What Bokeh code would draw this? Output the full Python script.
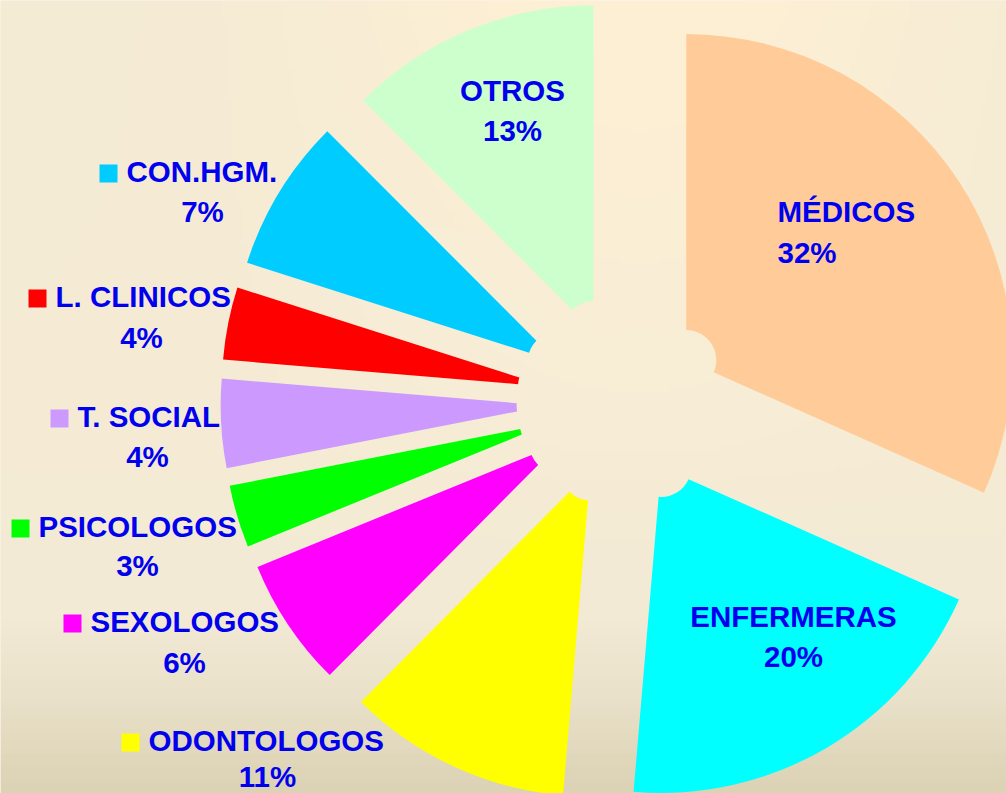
import numpy as np
from bokeh.plotting import figure
from bokeh.models import Range1d, ColumnDataSource
from bokeh.embed import file_html
from bokeh.resources import INLINE
from bokeh.core.properties import value

# ---------------- data ----------------
categories = ["MÉDICOS", "ENFERMERAS", "ODONTOLOGOS", "SEXOLOGOS", "PSICOLOGOS",
              "T. SOCIAL", "L. CLINICOS", "CON.HGM.", "OTROS"]
shares = [31.7, 19.7, 11.1, 6.4, 3.1, 4.4, 3.6, 7.6, 12.5]
pct_labels = ["32%", "20%", "11%", "6%", "3%", "4%", "4%", "7%", "13%"]
colors = ["#FFCC99", "#00FFFF", "#FFFF00", "#FF00FF", "#00FF00",
          "#CC99FF", "#FF0000", "#00CCFF", "#CCFFCC"]

# ---------------- layout (page pixel coordinates, y measured downward) ----------------
W, H = 1006, 793
PAGE_H = 793
CX, CY = 622, 401          # pie centre
EXPLODE = 76
R_OUT, R_IN = 326, 30
TEXT_DY = -10              # baseline correction for the text renderer

# inside labels
inside_cat = ["MÉDICOS", "ENFERMERAS", "OTROS"]
inside_x = [777, 793, 512]
inside_y1 = [221, 626, 100]
inside_y2 = [262, 666, 140]
inside_align = ["left", "center", "center"]

# outside labels with key squares
outside_cat = ["CON.HGM.", "L. CLINICOS", "T. SOCIAL", "PSICOLOGOS", "SEXOLOGOS", "ODONTOLOGOS"]
outside_x = [126, 55, 77, 38, 90, 148]
outside_y1 = [181, 306, 426, 536, 631, 750]
outside_pct_x = [202, 141, 147, 137, 184, 267]
outside_y2 = [221, 347, 466, 575, 672, 786]


def fy(Y):
    return PAGE_H - np.asarray(Y, dtype=float)


def ty(Y):
    return fy(np.asarray(Y, dtype=float) + TEXT_DY)


p = figure(width=W, height=H, output_backend="svg", toolbar_location=None,
           x_range=Range1d(0, W), y_range=Range1d(PAGE_H - H, PAGE_H),
           min_border=0)
p.axis.visible = False
p.grid.visible = False
p.outline_line_color = None
p.background_fill_color = "#F4EAD3"
p.border_fill_color = "#F4EAD3"

# ---------------- background gradient ----------------
gh, gw = 160, 200
ys = np.linspace(PAGE_H - H, PAGE_H, gh)
xs = np.linspace(0, W, gw)
Yref = PAGE_H - ys
stops_y = [0, 450, 620, 700, 793]
stops_c = np.array([(248, 237, 212), (246, 236, 214), (242, 234, 213), (233, 225, 201), (220, 210, 180)], float)
col = np.stack([np.interp(Yref, stops_y, stops_c[:, k]) for k in range(3)], axis=1)
img = np.zeros((gh, gw, 3))
fade = np.clip(1 - Yref / 550.0, 0, 1)[:, None]
bump = np.exp(-((xs - 640) / 330.0) ** 2)[None, :] * fade
img[:] = col[:, None, :]
img[..., 0] += 6 * bump - 4 * (fade - bump)
img[..., 1] += 3 * bump - 2 * (fade - bump)
img = np.clip(img, 0, 255).astype(np.uint32)
rgba = (np.uint32(255) << 24) | (img[..., 2] << 16) | (img[..., 1] << 8) | img[..., 0]
p.image_rgba(image=[rgba.astype(np.uint32)], x=0, y=PAGE_H - H, dw=W, dh=H)

# ---------------- exploded pie ----------------
vals = np.array(shares, float)
frac = vals / vals.sum()
cum = np.concatenate([[0], np.cumsum(frac)])
start = 90 - cum[1:] * 360
end = 90 - cum[:-1] * 360
mid = np.radians((start + end) / 2)
px = CX + EXPLODE * np.cos(mid)
py = fy(CY) + EXPLODE * np.sin(mid)

src = ColumnDataSource(dict(x=px, y=py, start=np.radians(start), end=np.radians(end),
                            color=colors, cat=categories))
p.annular_wedge(x="x", y="y", inner_radius=R_IN, outer_radius=R_OUT,
                start_angle="start", end_angle="end",
                fill_color="color", line_color=None, source=src)

# ---------------- labels ----------------
FONT = value("Liberation Sans")
TXT = dict(text_font=FONT, text_font_style="bold", text_font_size="29.5px",
           text_color="#0000EE", text_baseline="alphabetic")

idx = {c: i for i, c in enumerate(categories)}
for al in ("left", "center"):
    sel = [k for k in range(len(inside_cat)) if inside_align[k] == al]
    if not sel:
        continue
    names = [inside_cat[k] for k in sel]
    pcts = [pct_labels[idx[c]] for c in names]
    xx = [inside_x[k] for k in sel]
    p.text(x=xx, y=ty([inside_y1[k] for k in sel]), text=names, text_align=al, **TXT)
    p.text(x=xx, y=ty([inside_y2[k] for k in sel]), text=pcts, text_align=al, **TXT)

o_pcts = [pct_labels[idx[c]] for c in outside_cat]
o_cols = [colors[idx[c]] for c in outside_cat]
p.text(x=outside_x, y=ty(outside_y1), text=outside_cat, text_align="left", **TXT)
p.text(x=outside_pct_x, y=ty(outside_y2), text=o_pcts, text_align="center", **TXT)
p.rect(x=np.array(outside_x) - 18, y=fy(outside_y1) + 8, width=18, height=18,
       fill_color=o_cols, line_color=None)

open("out.html", "w").write(file_html(p, INLINE))
